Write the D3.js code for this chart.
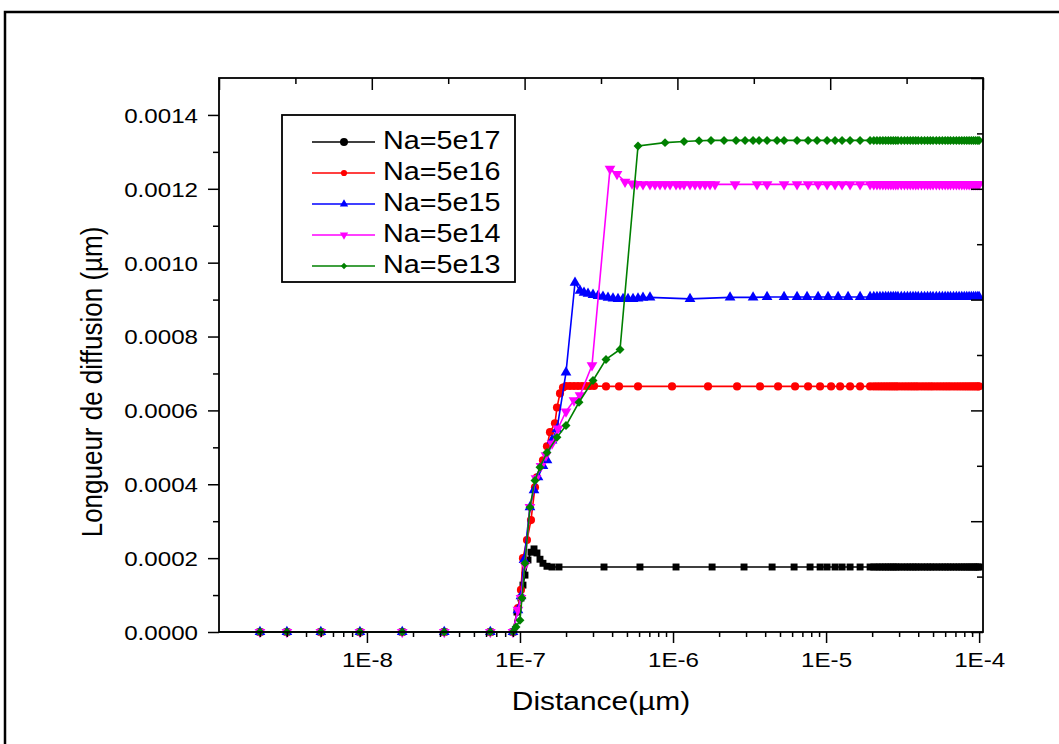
<!DOCTYPE html>
<html>
<head>
<meta charset="utf-8">
<script src="https://cdn.jsdelivr.net/npm/d3@7"></script>
<style>
  body { margin: 0; background: #fff; }
  text { font-family: "Liberation Sans", Arial, sans-serif; fill: #000; }
</style>
</head>
<body>
<svg id="chart" width="1059" height="744"></svg>
<script>
const seriesNames = ["Na=5e17", "Na=5e16", "Na=5e15", "Na=5e14", "Na=5e13"];
const seriesColors = ["#000000", "#ff0000", "#0000ff", "#ff00ff", "#008000"];

// points shared by every curve (flat at zero before 1E-7)
const baseDistance = [1e-9, 2.0e-9, 3.0e-9, 5.0e-9, 9.0e-9, 1.7e-8, 3.2e-8, 6.4e-8, 9.0e-8];
// dense points of the final plateau, same for every curve
const tailDistance = [2.05e-5, 2.15e-5, 2.25e-5, 2.35e-5, 2.45e-5, 2.55e-5, 2.65e-5, 2.75e-5, 2.85e-5, 2.95e-5,
  3.1e-5, 3.25e-5, 3.4e-5, 3.55e-5, 3.7e-5, 3.85e-5, 4.0e-5, 4.2e-5, 4.4e-5, 4.6e-5,
  4.8e-5, 5.0e-5, 5.25e-5, 5.5e-5, 5.75e-5, 6.0e-5, 6.25e-5, 6.5e-5, 6.8e-5, 7.1e-5,
  7.4e-5, 7.7e-5, 8.0e-5, 8.3e-5, 8.6e-5, 8.9e-5, 9.2e-5, 9.5e-5, 9.8e-5, 1.0e-4];
const plateau = [1.76e-4, 6.65e-4, 9.07e-4, 1.212e-3, 1.331e-3];

const blackX = [9.56e-8, 1.015e-7, 1.046e-7, 1.078e-7, 1.128e-7, 1.18e-7, 1.235e-7, 1.291e-7, 1.351e-7, 1.413e-7,
  1.501e-7, 1.619e-7, 1.798e-7, 3.54e-7, 6.08e-7, 1.046e-6, 1.80e-6, 2.91e-6, 4.44e-6, 6.18e-6,
  7.86e-6, 9.14e-6, 1.015e-5, 1.145e-5, 1.272e-5, 1.435e-5, 1.668e-5, 1.939e-5];
const blackY = [5.4e-5, 9.2e-5, 1.27e-4, 1.54e-4, 1.95e-4, 2.16e-4, 2.25e-4, 2.14e-4, 1.97e-4, 1.86e-4,
  1.78e-4, 1.76e-4, 1.76e-4, 1.76e-4, 1.76e-4, 1.76e-4, 1.76e-4, 1.76e-4, 1.76e-4, 1.76e-4,
  1.76e-4, 1.76e-4, 1.76e-4, 1.76e-4, 1.76e-4, 1.76e-4, 1.76e-4, 1.76e-4];

const redX = [9.70e-8, 1.015e-7, 1.046e-7, 1.111e-7, 1.18e-7, 1.253e-7, 1.291e-7, 1.413e-7, 1.501e-7, 1.571e-7,
  1.693e-7, 1.745e-7, 1.826e-7, 1.91e-7, 1.999e-7, 2.122e-7, 2.254e-7, 2.393e-7, 2.542e-7, 2.70e-7,
  2.868e-7, 3.046e-7, 3.648e-7, 4.437e-7, 5.905e-7, 9.85e-7, 1.693e-6, 2.62e-6, 3.704e-6, 4.857e-6,
  6.27e-6, 7.625e-6, 9.136e-6, 1.078e-5, 1.235e-5, 1.435e-5, 1.668e-5, 1.939e-5];
const redY = [6.5e-5, 1.14e-4, 2.0e-4, 2.49e-4, 3.03e-4, 3.92e-4, 4.19e-4, 4.65e-4, 5.03e-4, 5.41e-4,
  5.65e-4, 6.08e-4, 6.46e-4, 6.62e-4, 6.66e-4, 6.66e-4, 6.66e-4, 6.66e-4, 6.66e-4, 6.66e-4,
  6.66e-4, 6.66e-4, 6.65e-4, 6.65e-4, 6.65e-4, 6.65e-4, 6.65e-4, 6.65e-4, 6.65e-4, 6.65e-4,
  6.65e-4, 6.65e-4, 6.65e-4, 6.65e-4, 6.65e-4, 6.65e-4, 6.65e-4, 6.65e-4];

const blueX = [9.70e-8, 1.015e-7, 1.062e-7, 1.162e-7, 1.235e-7, 1.311e-7, 1.413e-7, 1.501e-7, 1.619e-7, 1.745e-7,
  1.999e-7, 2.288e-7, 2.467e-7, 2.62e-7, 2.783e-7, 3.0e-7, 3.234e-7, 3.486e-7, 3.759e-7, 4.052e-7,
  4.37e-7, 4.713e-7, 5.08e-7, 5.477e-7, 5.905e-7, 6.365e-7, 7.07e-7, 1.291e-6, 2.358e-6, 3.334e-6,
  4.115e-6, 5.315e-6, 6.462e-6, 7.511e-6, 8.867e-6, 1.03e-5, 1.198e-5, 1.392e-5, 1.668e-5, 1.939e-5];
const blueY = [5.9e-5, 9.7e-5, 1.95e-4, 3.38e-4, 3.84e-4, 4.19e-4, 4.50e-4, 4.65e-4, 5.19e-4, 5.49e-4,
  7.03e-4, 9.46e-4, 9.24e-4, 9.19e-4, 9.16e-4, 9.13e-4, 9.10e-4, 9.08e-4, 9.05e-4, 9.03e-4,
  9.02e-4, 9.02e-4, 9.02e-4, 9.02e-4, 9.03e-4, 9.05e-4, 9.06e-4, 9.02e-4, 9.06e-4, 9.06e-4,
  9.07e-4, 9.07e-4, 9.07e-4, 9.07e-4, 9.07e-4, 9.07e-4, 9.07e-4, 9.07e-4, 9.07e-4, 9.07e-4];

const magentaX = [9.70e-8, 1.015e-7, 1.078e-7, 1.162e-7, 1.272e-7, 1.372e-7, 1.478e-7, 1.619e-7, 1.771e-7, 1.999e-7,
  2.254e-7, 2.467e-7, 2.955e-7, 3.874e-7, 4.305e-7, 4.857e-7, 5.395e-7, 5.817e-7, 6.365e-7, 7.07e-7,
  7.625e-7, 8.222e-7, 8.867e-7, 9.56e-7, 1.046e-6, 1.111e-6, 1.18e-6, 1.291e-6, 1.392e-6, 1.501e-6,
  1.619e-6, 1.745e-6, 1.881e-6, 2.542e-6, 3.54e-6, 4.115e-6, 5.315e-6, 6.462e-6, 7.625e-6, 8.867e-6,
  1.015e-5, 1.145e-5, 1.272e-5, 1.435e-5, 1.668e-5, 1.939e-5];
const magentaY = [6.0e-5, 9.2e-5, 1.81e-4, 3.38e-4, 4.16e-4, 4.49e-4, 4.78e-4, 5.10e-4, 5.51e-4, 5.97e-4,
  6.27e-4, 6.41e-4, 7.22e-4, 1.254e-3, 1.24e-3, 1.219e-3, 1.214e-3, 1.213e-3, 1.212e-3, 1.212e-3,
  1.212e-3, 1.212e-3, 1.212e-3, 1.212e-3, 1.212e-3, 1.212e-3, 1.212e-3, 1.212e-3, 1.212e-3, 1.212e-3,
  1.212e-3, 1.212e-3, 1.212e-3, 1.212e-3, 1.212e-3, 1.212e-3, 1.212e-3, 1.212e-3, 1.212e-3, 1.212e-3,
  1.212e-3, 1.212e-3, 1.212e-3, 1.212e-3, 1.212e-3, 1.212e-3];

const greenX = [9.42e-8, 1.0e-7, 1.03e-7, 1.078e-7, 1.162e-7, 1.253e-7, 1.351e-7, 1.501e-7, 1.745e-7, 1.999e-7,
  2.43e-7, 3.0e-7, 3.648e-7, 4.505e-7, 5.905e-7, 8.867e-7, 1.18e-6, 1.479e-6, 1.771e-6, 2.154e-6,
  2.582e-6, 2.955e-6, 3.334e-6, 3.648e-6, 4.115e-6, 4.782e-6, 5.315e-6, 6.462e-6, 7.625e-6, 8.733e-6,
  1.015e-5, 1.145e-5, 1.272e-5, 1.435e-5, 1.668e-5, 1.939e-5];
const greenY = [1.35e-5, 3.2e-5, 9.2e-5, 1.86e-4, 3.38e-4, 4.10e-4, 4.46e-4, 4.86e-4, 5.27e-4, 5.59e-4,
  6.22e-4, 6.81e-4, 7.38e-4, 7.65e-4, 1.316e-3, 1.325e-3, 1.328e-3, 1.33e-3, 1.331e-3, 1.331e-3,
  1.331e-3, 1.331e-3, 1.331e-3, 1.331e-3, 1.331e-3, 1.331e-3, 1.331e-3, 1.331e-3, 1.331e-3, 1.331e-3,
  1.331e-3, 1.331e-3, 1.331e-3, 1.331e-3, 1.331e-3, 1.331e-3];

const heads = [[blackX, blackY], [redX, redY], [blueX, blueY], [magentaX, magentaY], [greenX, greenY]];

const yMajor = [0, 0.0002, 0.0004, 0.0006, 0.0008, 0.0010, 0.0012, 0.0014];
const yMinor = [0.0001, 0.0003, 0.0005, 0.0007, 0.0009, 0.0011, 0.0013];
const xMajor = [1e-8, 1e-7, 1e-6, 1e-5, 1e-4];

// ---- layout
const plotLeft = 219, plotRight = 983, plotTop = 78, plotBottom = 632;
const STRETCH = 1.15; // the original text is drawn a bit wide

const svg = d3.select("#chart");

svg.append("rect")
  .attr("x", 5).attr("y", 12)
  .attr("width", 1080).attr("height", 780)
  .attr("fill", "none").attr("stroke", "#000").attr("stroke-width", 2.5);

const x = d3.scaleLog().domain([1.08e-9, 1.06e-4]).range([plotLeft, plotRight]);
const y = d3.scaleLinear().domain([0, 0.0015]).range([plotBottom, plotTop]);

const series = heads.map(([hx, hy], i) => ({
  name: seriesNames[i],
  color: seriesColors[i],
  points: baseDistance.map(d => [d, 0])
    .concat(hx.map((d, j) => [d, hy[j]]))
    .concat(tailDistance.map(d => [d, plateau[i]]))
}));

const symbols = [d3.symbolSquare, d3.symbolCircle, d3.symbolTriangle, d3.symbolTriangle, d3.symbolSquare];
const symbolSize = [48, 52, 50, 50, 40];
const symbolRot = [0, 0, 0, 180, 45];

svg.append("clipPath").attr("id", "plotclip")
  .append("rect").attr("x", plotLeft).attr("y", plotTop - 6)
  .attr("width", plotRight - plotLeft).attr("height", plotBottom - plotTop + 12);

const plot = svg.append("g").attr("clip-path", "url(#plotclip)");
const line = d3.line().x(d => x(d[0])).y(d => y(d[1]));

series.forEach((s, i) => {
  const g = plot.append("g");
  g.append("path")
    .attr("d", line(s.points))
    .attr("fill", "none")
    .attr("stroke", s.color)
    .attr("stroke-width", 1.6);
  g.selectAll("path.mark")
    .data(s.points)
    .join("path")
    .attr("class", "mark")
    .attr("d", d3.symbol().type(symbols[i]).size(symbolSize[i]))
    .attr("transform", d => `translate(${x(d[0])},${y(d[1])}) rotate(${symbolRot[i]})`)
    .attr("fill", s.color);
});

// ---- axes
function styleAxis(g) {
  g.select(".domain").remove();
  g.selectAll("line").attr("stroke", "#000").attr("stroke-width", 1.5);
}

const yAxis = svg.append("g").attr("transform", `translate(${plotLeft},0)`)
  .call(d3.axisLeft(y).tickValues(yMajor).tickSize(11).tickFormat(d3.format(".4f")))
  .call(styleAxis);
yAxis.selectAll("text")
  .attr("x", -21 / STRETCH)
  .attr("dy", "0.35em")
  .attr("transform", `scale(${STRETCH},1)`)
  .attr("font-size", null).attr("font-family", null)
  .style("font-size", "21px");

svg.append("g").attr("transform", `translate(${plotLeft},0)`)
  .call(d3.axisLeft(y).tickValues(yMinor).tickSize(6).tickFormat(""))
  .call(styleAxis);

const xAxis = svg.append("g").attr("transform", `translate(0,${plotBottom})`)
  .call(d3.axisBottom(x).tickValues(xMajor).tickSize(11)
    .tickFormat(d => "1E" + Math.round(Math.log10(d))))
  .call(styleAxis);
xAxis.selectAll("text")
  .attr("y", 35).attr("dy", 0)
  .attr("transform", `scale(${STRETCH},1)`)
  .style("font-size", "21px");

const xMinor = [];
[1e-9, 1e-8, 1e-7, 1e-6, 1e-5].forEach(dec => {
  for (let k = 2; k <= 9; k++) xMinor.push(k * dec);
});
svg.append("g").attr("transform", `translate(0,${plotBottom})`)
  .call(d3.axisBottom(x).tickValues(xMinor.filter(v => v > 1.08e-9 && v < 1.06e-4)).tickSize(5).tickFormat(""))
  .call(styleAxis);

// top and right axes (inside ticks, plain linear divisions)
const topScale = d3.scaleLinear().domain([0, 10]).range([plotLeft, plotRight]);
const rightScale = d3.scaleLinear().domain([0, 10]).range([plotBottom, plotTop]);
const even = d3.range(0, 11, 2), odd = d3.range(1, 10, 2);

svg.append("g").attr("transform", `translate(0,${plotTop})`)
  .call(d3.axisTop(topScale).tickValues(even).tickSize(-12).tickFormat("")).call(styleAxis);
svg.append("g").attr("transform", `translate(0,${plotTop})`)
  .call(d3.axisTop(topScale).tickValues(odd).tickSize(-6).tickFormat("")).call(styleAxis);
svg.append("g").attr("transform", `translate(${plotRight},0)`)
  .call(d3.axisRight(rightScale).tickValues(even).tickSize(-12).tickFormat("")).call(styleAxis);
svg.append("g").attr("transform", `translate(${plotRight},0)`)
  .call(d3.axisRight(rightScale).tickValues(odd).tickSize(-6).tickFormat("")).call(styleAxis);

svg.append("rect")
  .attr("x", plotLeft).attr("y", plotTop)
  .attr("width", plotRight - plotLeft).attr("height", plotBottom - plotTop)
  .attr("fill", "none").attr("stroke", "#000").attr("stroke-width", 1.8);

// ---- titles
svg.append("text")
  .attr("transform", `translate(601,710) scale(${STRETCH},1)`)
  .attr("text-anchor", "middle")
  .style("font-size", "26px")
  .text("Distance(µm)");

svg.append("text")
  .attr("transform", `translate(102,382) scale(${STRETCH},1) rotate(-90)`)
  .attr("text-anchor", "middle")
  .style("font-size", "26px")
  .text("Longueur de diffusion (µm)");

// ---- legend
const legend = svg.append("g");
legend.append("rect")
  .attr("x", 282).attr("y", 115).attr("width", 233).attr("height", 167)
  .attr("fill", "#fff").attr("stroke", "#000").attr("stroke-width", 1.8);

const legendSymbols = [d3.symbolCircle, d3.symbolCircle, d3.symbolTriangle, d3.symbolTriangle, d3.symbolSquare];
const legendSize = [50, 30, 30, 30, 20];

series.forEach((s, i) => {
  const ry = 142 + i * 31;
  legend.append("line")
    .attr("x1", 312).attr("x2", 375).attr("y1", ry).attr("y2", ry)
    .attr("stroke", s.color).attr("stroke-width", 1.5);
  legend.append("path")
    .attr("d", d3.symbol().type(legendSymbols[i]).size(legendSize[i]))
    .attr("transform", `translate(344,${ry}) rotate(${symbolRot[i]})`)
    .attr("fill", s.color);
  legend.append("text")
    .attr("transform", `translate(383,${ry + 7}) scale(${STRETCH},1)`)
    .style("font-size", "25px")
    .text(s.name);
});
</script>
</body>
</html>
